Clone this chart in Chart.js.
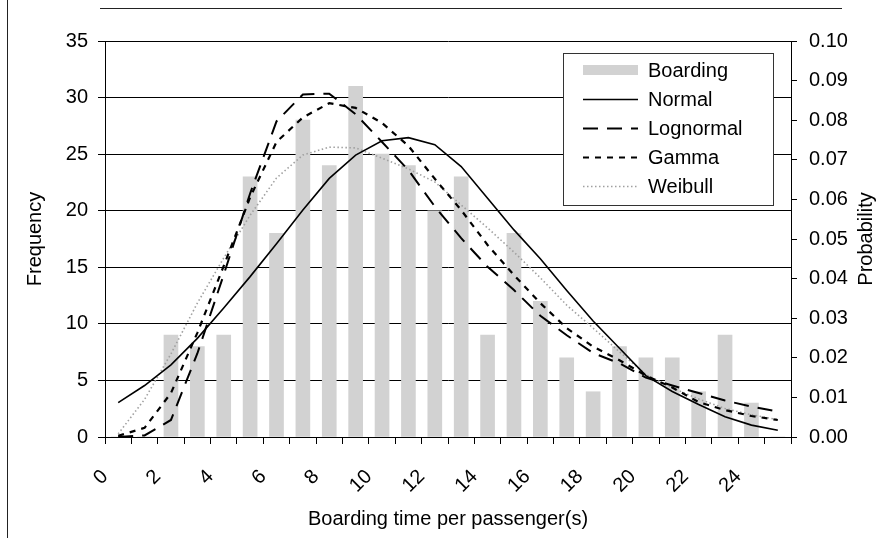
<!DOCTYPE html>
<html>
<head>
<meta charset="utf-8">
<title>Boarding time per passenger</title>
<script src="https://cdn.jsdelivr.net/npm/chart.js@4.4.1/dist/chart.umd.min.js"></script>
<style>
  html, body { margin: 0; padding: 0; background: #fff; }
  #wrap { width: 879px; height: 538px; }
</style>
</head>
<body>
<div id="wrap"><canvas id="boarding-chart" width="879" height="538"></canvas></div>
<script>
// histogram bins are 1 s wide, values sit in the middle of each bin
const binMid = [0.5, 1.5, 2.5, 3.5, 4.5, 5.5, 6.5, 7.5, 8.5, 9.5, 10.5, 11.5, 12.5,
                13.5, 14.5, 15.5, 16.5, 17.5, 18.5, 19.5, 20.5, 21.5, 22.5, 23.5, 24.5, 25.5];
const boarding = [0, 0, 9, 8, 9, 23, 18, 28, 24, 31, 25, 24, 20, 23, 9, 18, 12, 7, 4, 8, 7, 7, 4, 9, 3, 0];

// fitted densities at the bin centres
const normal    = [0.0087, 0.0130, 0.0182, 0.0249, 0.0326, 0.0405, 0.0488, 0.0573, 0.0653, 0.0712, 0.0748, 0.0756, 0.0738,
                   0.0683, 0.0603, 0.0523, 0.0450, 0.0370, 0.0293, 0.0224, 0.0155, 0.0115, 0.0082, 0.0051, 0.0030, 0.0017];
const lognormal = [0.0000, 0.0004, 0.0043, 0.0211, 0.0410, 0.0615, 0.0797, 0.0865, 0.0867, 0.0815, 0.0745, 0.0674, 0.0582,
                   0.0502, 0.0430, 0.0371, 0.0306, 0.0257, 0.0212, 0.0186, 0.0150, 0.0130, 0.0111, 0.0092, 0.0077, 0.0064];
const gamma     = [0.0003, 0.0023, 0.0111, 0.0263, 0.0432, 0.0605, 0.0745, 0.0807, 0.0843, 0.0831, 0.0793, 0.0735, 0.0652,
                   0.0573, 0.0485, 0.0409, 0.0338, 0.0275, 0.0228, 0.0194, 0.0155, 0.0125, 0.0088, 0.0068, 0.0053, 0.0043];
const weibull   = [0.0008, 0.0095, 0.0210, 0.0338, 0.0452, 0.0560, 0.0654, 0.0712, 0.0732, 0.0730, 0.0704, 0.0677, 0.0644,
                   0.0586, 0.0528, 0.0467, 0.0402, 0.0333, 0.0275, 0.0215, 0.0158, 0.0124, 0.0096, 0.0072, 0.0056, 0.0044];

const timeTicks = [0, 2, 4, 6, 8, 10, 12, 14, 16, 18, 20, 22, 24];

const FONT = '"Liberation Sans", Arial, sans-serif';
const font = { family: FONT, size: 20 };

function pts(values) {
    return values.map((v, i) => ({ x: binMid[i], y: v }));
}

// white page, frame lines, the right-hand title and the boxed legend
const decorations = {
    id: 'decorations',
    beforeDraw(chart) {
        const ctx = chart.ctx;
        ctx.save();
        ctx.fillStyle = '#fff';
        ctx.fillRect(0, 0, chart.width, chart.height);
        ctx.strokeStyle = '#222';
        ctx.lineWidth = 1;
        ctx.beginPath();
        ctx.moveTo(7.5, 0);
        ctx.lineTo(7.5, chart.height);
        ctx.moveTo(100, 8.5);
        ctx.lineTo(842, 8.5);
        ctx.stroke();
        ctx.restore();
    },
    afterDraw(chart) {
        const ctx = chart.ctx;
        const area = chart.chartArea;
        ctx.save();

        // right axis title, reads bottom to top like the left one
        ctx.font = '20px ' + FONT;
        ctx.fillStyle = '#000';
        ctx.textAlign = 'center';
        ctx.textBaseline = 'middle';
        ctx.translate(866, (area.top + area.bottom) / 2);
        ctx.rotate(-Math.PI / 2);
        ctx.fillText('Probability', 0, 0);
        ctx.setTransform(1, 0, 0, 1, 0, 0);

        // legend box
        const bx = area.right - 228, by = area.top + 12, bw = 210, bh = 152;
        ctx.fillStyle = '#fff';
        ctx.fillRect(bx, by, bw, bh);
        ctx.strokeStyle = '#333';
        ctx.lineWidth = 1;
        ctx.strokeRect(bx + 0.5, by + 0.5, bw, bh);

        ctx.textAlign = 'left';
        chart.data.datasets.forEach((ds, i) => {
            const cy = by + 17 + i * 29;
            const x1 = bx + 20, x2 = bx + 75;
            if (ds.type === 'line') {
                ctx.strokeStyle = ds.borderColor;
                ctx.lineWidth = ds.borderWidth;
                ctx.setLineDash(ds.borderDash || []);
                ctx.beginPath();
                ctx.moveTo(x1, cy + 0.5);
                ctx.lineTo(x2, cy + 0.5);
                ctx.stroke();
                ctx.setLineDash([]);
            } else {
                ctx.fillStyle = ds.backgroundColor;
                ctx.fillRect(x1, cy - 5, x2 - x1, 10);
            }
            ctx.fillStyle = '#000';
            ctx.fillText(ds.label, bx + 85, cy + 1);
        });
        ctx.restore();
    }
};

const CHART = document.getElementById('boarding-chart');
new Chart(CHART, {
    type: 'bar',
    data: {
        datasets: [
            {
                label: 'Boarding',
                data: pts(boarding),
                backgroundColor: '#d2d2d2',
                barThickness: 14,
                yAxisID: 'y',
                order: 5
            },
            {
                type: 'line',
                label: 'Normal',
                data: pts(normal),
                borderColor: '#000',
                borderWidth: 1.6,
                pointRadius: 0,
                tension: 0,
                yAxisID: 'y2',
                order: 1
            },
            {
                type: 'line',
                label: 'Lognormal',
                data: pts(lognormal),
                borderColor: '#000',
                borderWidth: 2,
                borderDash: [15, 9],
                pointRadius: 0,
                tension: 0,
                yAxisID: 'y2',
                order: 1
            },
            {
                type: 'line',
                label: 'Gamma',
                data: pts(gamma),
                borderColor: '#000',
                borderWidth: 2.2,
                borderDash: [6, 6],
                pointRadius: 0,
                tension: 0,
                yAxisID: 'y2',
                order: 1
            },
            {
                type: 'line',
                label: 'Weibull',
                data: pts(weibull),
                borderColor: '#a0a0a0',
                borderWidth: 1.6,
                borderDash: [1.5, 2.5],
                pointRadius: 0,
                tension: 0,
                yAxisID: 'y2',
                order: 1
            }
        ]
    },
    options: {
        responsive: false,
        animation: false,
        devicePixelRatio: 1,
        layout: { padding: { top: 41, left: 0, right: 0, bottom: 0 } },
        plugins: {
            legend: { display: false },
            tooltip: { enabled: false }
        },
        scales: {
            x: {
                type: 'linear',
                min: 0,
                max: 26,
                offset: false,
                ticks: {
                    stepSize: 1,
                    autoSkip: false,
                    minRotation: 45,
                    maxRotation: 45,
                    padding: 21,
                    color: '#000',
                    font: font,
                    callback: v => timeTicks.includes(v) ? String(v) : ''
                },
                grid: { display: true, drawOnChartArea: false, drawTicks: true, tickLength: 7, color: '#000', offset: false },
                border: { display: true, color: '#000', width: 1 },
                title: {
                    display: true,
                    text: 'Boarding time per passenger(s)',
                    color: '#000',
                    font: font,
                    padding: { top: 0, bottom: 7 }
                },
                afterFit: s => { s.height = 101; }
            },
            y: {
                position: 'left',
                min: 0,
                max: 35,
                ticks: { stepSize: 5, padding: 10, color: '#000', font: font },
                grid: { color: '#000', lineWidth: 1, tickLength: 7 },
                border: { display: true, color: '#000', width: 1 },
                title: {
                    display: true,
                    text: 'Frequency',
                    color: '#000',
                    font: font,
                    padding: { top: 23, bottom: 0 }
                },
                afterFit: s => { s.width = 105; }
            },
            y2: {
                position: 'right',
                min: 0,
                max: 0.1,
                ticks: {
                    stepSize: 0.01,
                    padding: 12,
                    color: '#000',
                    font: font,
                    callback: v => v.toFixed(2)
                },
                grid: { drawOnChartArea: false, tickLength: 6, color: '#000' },
                border: { display: true, color: '#000', width: 1 },
                afterFit: s => { s.width = 88; }
            }
        }
    },
    plugins: [decorations]
});
</script>
</body>
</html>
